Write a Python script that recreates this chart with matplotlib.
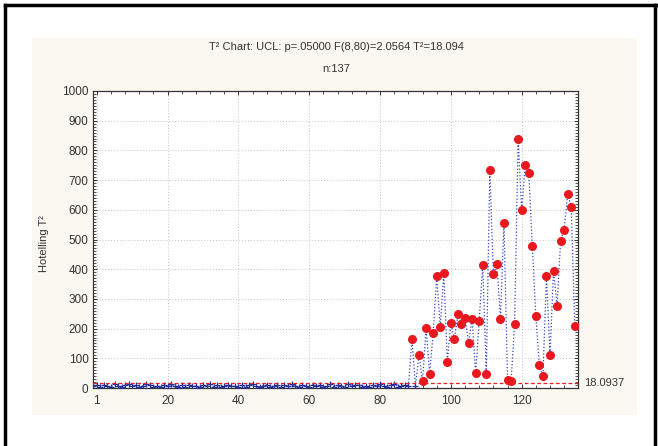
import numpy as np
import matplotlib
matplotlib.use('Agg')
import matplotlib.pyplot as plt
from matplotlib.lines import Line2D
from matplotlib.patches import Rectangle
from matplotlib.ticker import FixedLocator, MultipleLocator

plt.rcParams['font.family'] = ['Liberation Sans', 'DejaVu Sans']

# Hotelling T2 per case, cases 1..137
t2_low = [6, 9, 4, 11, 7, 3, 12, 8, 5, 10,
          14, 6, 9, 4, 7, 13, 11, 5, 8, 3,
          10, 6, 12, 7, 4, 9, 5, 11, 8, 6,
          3, 10, 7, 12, 5, 9, 4, 8, 11, 6,
          7, 3, 10, 5, 9, 12, 6, 4, 8, 11,
          5, 7, 10, 3, 9, 6, 12, 8, 4, 10,
          7, 5, 11, 6, 9, 3, 8, 13, 5, 10,
          7, 4, 15, 6, 9, 11, 5, 8, 3, 10,
          6, 12, 7, 4, 9, 14, 5, 8, 11, 6]
t2_high = [165, 8, 112, 22, 202, 47, 184, 376, 206, 386,
           89, 219, 165, 250, 215, 237, 152, 233, 50, 227,
           414, 47, 733, 383, 416, 233, 557, 27, 22, 215,
           837, 598, 750, 724, 479, 243, 76, 40, 377, 111,
           395, 276, 496, 533, 654, 610, 209]
t2 = np.array(t2_low + t2_high, dtype=float)
case = np.arange(1, len(t2) + 1)

ucl = 18.0937
xtick_labels = ['1', '20', '40', '60', '80', '100', '120']
xtick_pos = [2, 22, 42, 62, 82, 102, 122]   # labels sit a couple of cases off in the export

fig = plt.figure(figsize=(6.58, 4.46), dpi=100)
fig.patch.set_facecolor('white')

# cream panel behind the chart
fig.add_artist(Rectangle((0.0486, 0.0695), 0.9195, 0.845, transform=fig.transFigure,
                         facecolor='#fbf8f2', edgecolor='none', zorder=0))
# black frame lines of the screenshot
fig.add_artist(Line2D([0.0076, 1], [0.9888, 0.9888], transform=fig.transFigure, color='black', lw=2.5))
fig.add_artist(Line2D([0.0076, 0.0076], [0, 0.9888], transform=fig.transFigure, color='black', lw=2.5))
fig.add_artist(Line2D([0.995, 0.995], [0, 0.9888], transform=fig.transFigure, color='black', lw=2.5))

ax = fig.add_axes([0.1418, 0.130, 0.7371, 0.666])
ax.set_facecolor('white')

ax.plot(case, t2, color='#3446c0', ls=':', lw=0.9, zorder=3)
out = t2 > ucl
ax.plot(case[~out], t2[~out], ls='none', marker='+', ms=5, mew=0.9, color='#23309a', zorder=4)
ax.plot(case[out], t2[out], ls='none', marker='o', ms=5.5, color='#e8191e', mec='#e8191e', zorder=5)
ax.axhline(ucl, color='#e82020', ls='--', lw=0.9, dashes=(3, 2), zorder=5)
ax.text(1.012, ucl, '18.0937', transform=ax.get_yaxis_transform(), fontsize=8,
        va='center', ha='left', color='#333333')

ax.set_xlim(1, 138)
ax.set_ylim(0, 1000)
ax.xaxis.set_major_locator(FixedLocator(xtick_pos))
ax.set_xticklabels(xtick_labels)
ax.xaxis.set_minor_locator(FixedLocator(np.arange(2, 138, 4)))
ax.yaxis.set_major_locator(MultipleLocator(100))
ax.yaxis.set_minor_locator(MultipleLocator(10))
ax.tick_params(which='both', direction='in', top=True, right=True, labelsize=8.5,
               colors='#333333', labelcolor='#333333')
ax.tick_params(which='major', length=3, width=0.7)
ax.tick_params(which='minor', length=2, width=0.6)
ax.tick_params(axis='x', pad=5)
ax.grid(True, which='major', ls=(0, (1, 2)), color='#c4c4c4', lw=0.7)
for s in ax.spines.values():
    s.set_color('#333333')
    s.set_linewidth(0.9)

fig.text(0.511, 0.894, 'T\u00b2 Chart: UCL: p=.05000 F(8,80)=2.0564 T\u00b2=18.094',
         ha='center', va='center', fontsize=8, color='#333333')
fig.text(0.511, 0.845, 'n:137', ha='center', va='center', fontsize=8, color='#333333')
fig.text(0.067, 0.455, 'Hotelling T\u00b2', rotation=90, ha='center', va='center',
         fontsize=8, color='#333333')

fig.savefig('out.png', dpi=100)
